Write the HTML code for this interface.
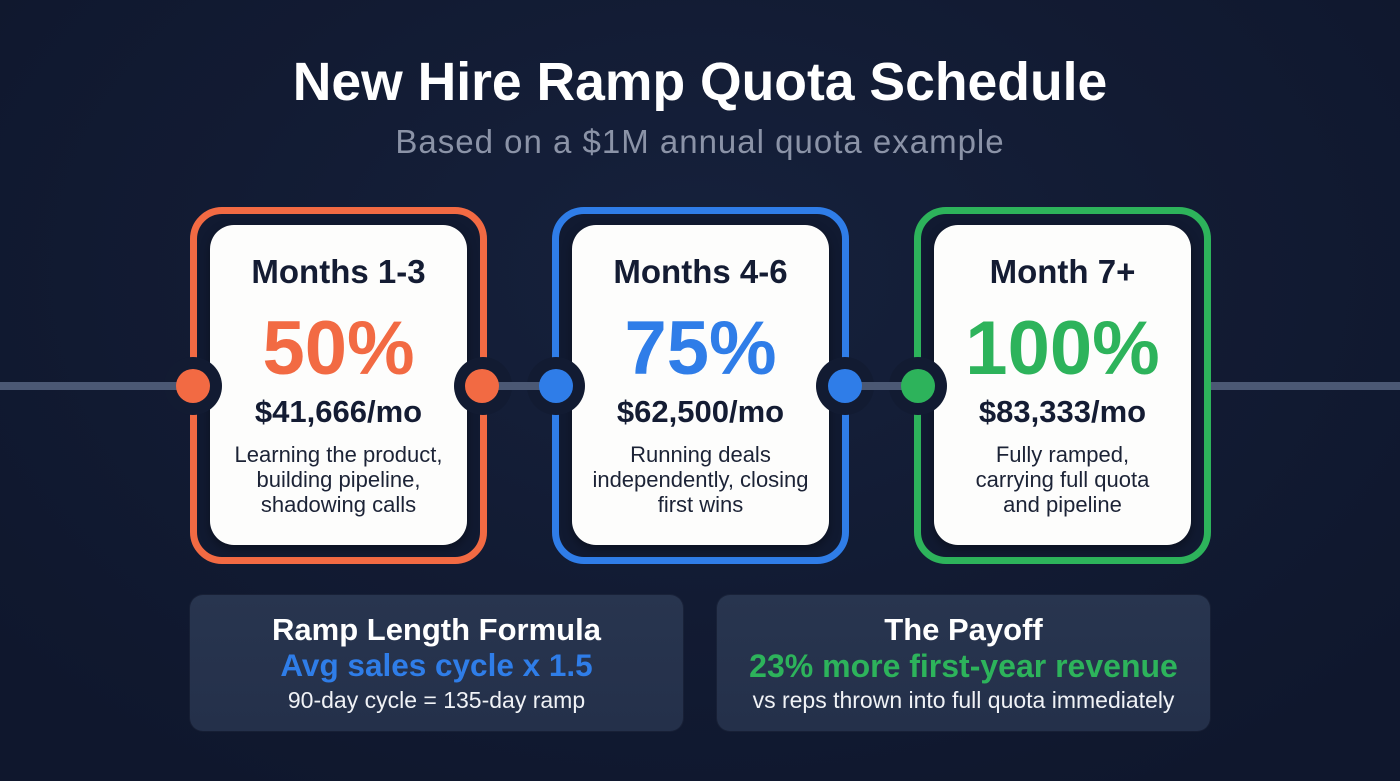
<!DOCTYPE html>
<html>
<head>
<meta charset="utf-8">
<style>
  html,body{margin:0;padding:0;}
  body{width:1400px;height:781px;overflow:hidden;position:relative;
    background:radial-gradient(ellipse 900px 600px at 50% 35%, #16213c 0%, #121b33 55%, #0f172d 100%);
    font-family:"Liberation Sans", Arial, sans-serif;}
  .abs{position:absolute;}
  .c{text-align:center;white-space:nowrap;line-height:1;}
  .title{left:0;width:1400px;top:56px;font-size:53.5px;font-weight:bold;color:#ffffff;}
  .sub{left:0;width:1400px;top:125px;font-size:33px;color:#8b93a7;letter-spacing:1px;}
  .line{height:8px;top:382px;background:#4b5874;}
  .card{top:207px;width:283px;height:343px;border:7px solid;border-radius:32px;background:#111a31;box-sizing:content-box;}
  .white{top:225px;width:257px;height:320px;background:#fdfdfc;border-radius:24px;box-shadow:0 4px 10px rgba(0,0,0,0.35);}
  .halo{width:58px;height:58px;border-radius:50%;background:#121b32;top:357px;}
  .dot{width:34px;height:34px;border-radius:50%;top:369px;}
  .ct{font-size:33px;font-weight:bold;color:#141c33;top:255px;}
  .pct{font-size:76px;font-weight:bold;top:311px;}
  .amt{font-size:31px;font-weight:bold;color:#141c33;top:396px;}
  .desc{font-size:22px;line-height:25px;color:#1c2336;top:442px;text-align:center;white-space:nowrap;}
  .box{top:595px;width:493px;height:136px;border-radius:13px;background:linear-gradient(180deg,#28354f,#24304a);box-shadow:0 0 0 1px rgba(255,255,255,0.03);}
  .bt{font-size:31px;font-weight:bold;color:#ffffff;top:614px;}
  .bs{font-weight:bold;}
  .bd{font-size:23px;color:#f0f2f6;top:688.5px;}
</style>
</head>
<body>
  <div class="abs c title">New Hire Ramp Quota Schedule</div>
  <div class="abs c sub">Based on a $1M annual quota example</div>

  <div class="abs card" style="left:190px;border-color:#f26a43;"></div>
  <div class="abs card" style="left:552px;border-color:#2f7de8;"></div>
  <div class="abs card" style="left:914px;border-color:#2db35b;"></div>

  <div class="abs white" style="left:210px;"></div>
  <div class="abs white" style="left:572px;"></div>
  <div class="abs white" style="left:934px;"></div>

  <div class="abs halo" style="left:164px;"></div>
  <div class="abs halo" style="left:454px;"></div>
  <div class="abs halo" style="left:527px;"></div>
  <div class="abs halo" style="left:816px;"></div>
  <div class="abs halo" style="left:889px;"></div>

  <div class="abs line" style="left:0;width:194px;"></div>
  <div class="abs line" style="left:483px;width:73px;"></div>
  <div class="abs line" style="left:845px;width:73px;"></div>
  <div class="abs line" style="left:1211px;width:189px;"></div>

  <div class="abs dot" style="left:176px;background:#f26a43;"></div>
  <div class="abs dot" style="left:465px;background:#f26a43;"></div>
  <div class="abs dot" style="left:539px;background:#2f7de8;"></div>
  <div class="abs dot" style="left:828px;background:#2f7de8;"></div>
  <div class="abs dot" style="left:901px;background:#2db35b;"></div>

  <div class="abs c ct" style="left:210px;width:257px;">Months 1-3</div>
  <div class="abs c pct" style="left:210px;width:257px;color:#f26a43;">50%</div>
  <div class="abs c amt" style="left:210px;width:257px;">$41,666/mo</div>
  <div class="abs desc" style="left:210px;width:257px;">Learning the product,<br>building pipeline,<br>shadowing calls</div>

  <div class="abs c ct" style="left:572px;width:257px;">Months 4-6</div>
  <div class="abs c pct" style="left:572px;width:257px;color:#2f7de8;">75%</div>
  <div class="abs c amt" style="left:572px;width:257px;">$62,500/mo</div>
  <div class="abs desc" style="left:572px;width:257px;">Running deals<br>independently, closing<br>first wins</div>

  <div class="abs c ct" style="left:934px;width:257px;">Month 7+</div>
  <div class="abs c pct" style="left:934px;width:257px;color:#2db35b;">100%</div>
  <div class="abs c amt" style="left:934px;width:257px;">$83,333/mo</div>
  <div class="abs desc" style="left:934px;width:257px;">Fully ramped,<br>carrying full quota<br>and pipeline</div>

  <div class="abs box" style="left:190px;"></div>
  <div class="abs box" style="left:717px;"></div>

  <div class="abs c bt" style="left:190px;width:493px;">Ramp Length Formula</div>
  <div class="abs c bs" style="left:190px;width:493px;color:#2f7de8;font-size:31.5px;top:650px;">Avg sales cycle x 1.5</div>
  <div class="abs c bd" style="left:190px;width:493px;">90-day cycle = 135-day ramp</div>

  <div class="abs c bt" style="left:717px;width:493px;">The Payoff</div>
  <div class="abs c bs" style="left:717px;width:493px;color:#2db35b;font-size:32px;top:650px;">23% more first-year revenue</div>
  <div class="abs c bd" style="left:717px;width:493px;">vs reps thrown into full quota immediately</div>
</body>
</html>
